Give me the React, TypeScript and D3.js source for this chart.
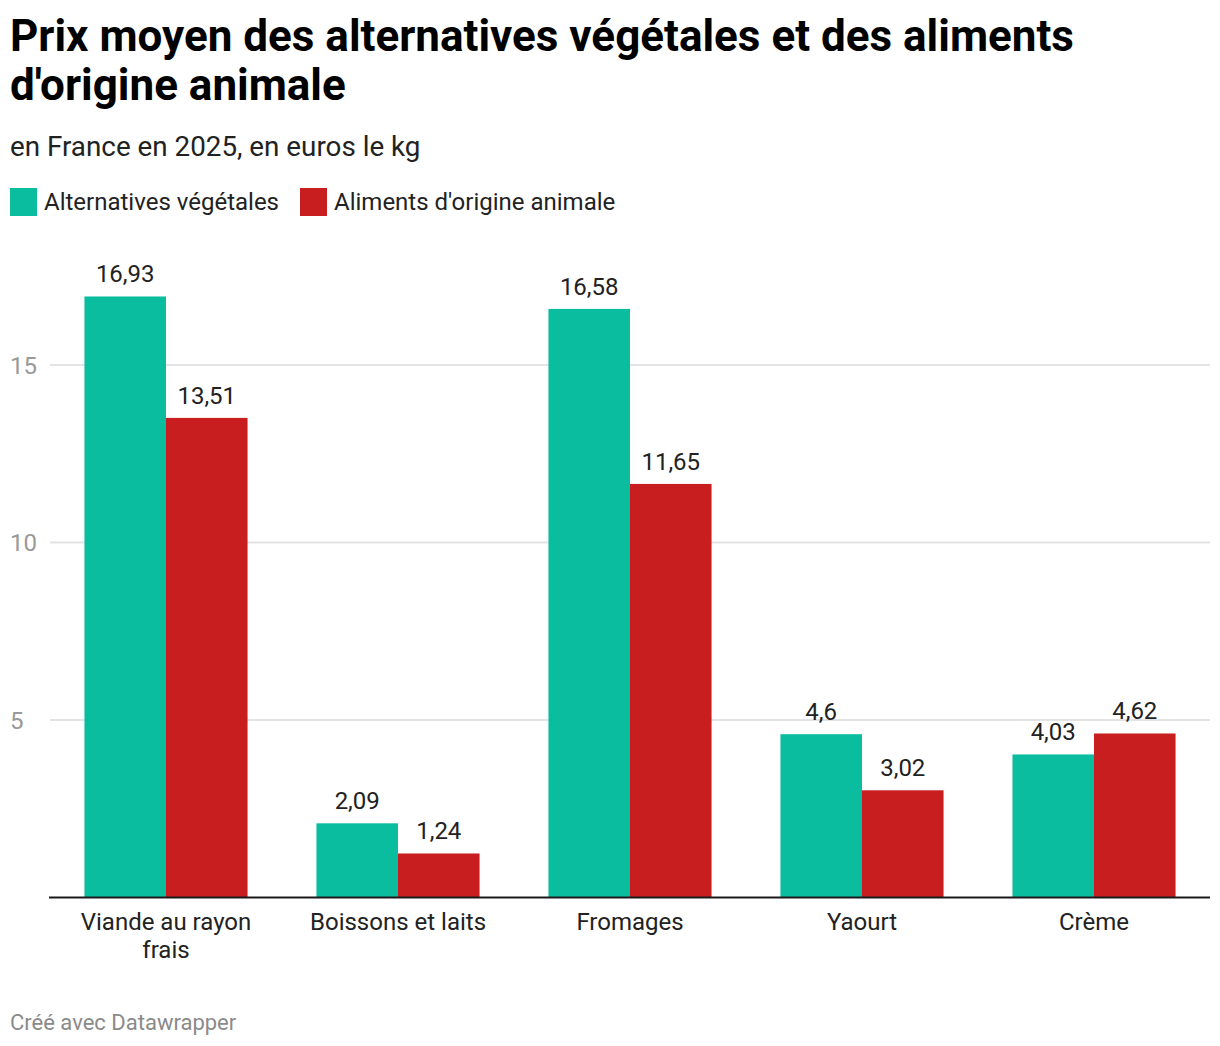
import React, { useEffect } from "react";
import * as d3 from "d3";

const categories = ["Viande au rayon frais", "Boissons et laits", "Fromages", "Yaourt", "Crème"];
const categoryLines = [["Viande au rayon", "frais"], ["Boissons et laits"], ["Fromages"], ["Yaourt"], ["Crème"]];
const seriesNames = ["Alternatives végétales", "Aliments d'origine animale"];
const vegetal = [16.93, 2.09, 16.58, 4.6, 4.03];
const animal = [13.51, 1.24, 11.65, 3.02, 4.62];
const yTicks = [5, 10, 15];
const colors = ["#0abd9f", "#c81e1f"];

const W = 1220;
const H = 1046;
const plotLeft = 50;
const plotRight = 1210;
const baseY = 897.5;
const pxPerUnit = 35.5;

export default function App() {
  useEffect(() => {
    document.body.style.margin = "0";
  }, []);

  const x = d3.scaleBand<string>().domain(categories).range([plotLeft, plotRight]).paddingInner(0.297).paddingOuter(0.1485);
  const x1 = d3.scaleBand<number>().domain([0, 1]).range([0, x.bandwidth()]);
  const y = d3.scaleLinear().domain([0, 20]).range([baseY, baseY - 20 * pxPerUnit]);
  const fmt = (v: number) => String(v).replace(".", ",");
  const series = [vegetal, animal];
  const font = "Roboto, sans-serif";

  return (
    <svg width={W} height={H} style={{ display: "block", position: "absolute", left: 0, top: 0, fontFamily: font }}>
      <rect width={W} height={H} fill="#fff" />
      <text x={10} y={51} fontSize={44} fontWeight={700} fill="#000">Prix moyen des alternatives végétales et des aliments</text>
      <text x={10} y={100} fontSize={44} fontWeight={700} fill="#000">d'origine animale</text>
      <text x={10} y={156} fontSize={27.8} fill="#222">en France en 2025, en euros le kg</text>
      {seriesNames.map((s, i) => {
        const lx = i === 0 ? 10 : 300;
        return (
          <g key={s}>
            <rect x={lx} y={188} width={27} height={28} fill={colors[i]} />
            <text x={lx + 34} y={210} fontSize={24} fill="#222">{s}</text>
          </g>
        );
      })}
      {yTicks.map((t) => (
        <g key={t}>
          <line x1={plotLeft} x2={plotRight} y1={y(t)} y2={y(t)} stroke="#e3e3e3" strokeWidth={2} />
          <text x={10} y={y(t) + 8.5} fontSize={24} fill="#999">{t}</text>
        </g>
      ))}
      {categories.map((c, ci) => (
        <g key={c}>
          {series.map((vals, si) => {
            const bx = (x(c) as number) + (x1(si) as number);
            const bw = x1.bandwidth();
            return (
              <g key={si}>
                <rect x={bx} y={y(vals[ci])} width={bw} height={baseY - y(vals[ci])} fill={colors[si]} />
                <text x={bx + bw / 2} y={y(vals[ci]) - 14} fontSize={24} textAnchor="middle" fill="#222">{fmt(vals[ci])}</text>
              </g>
            );
          })}
          {categoryLines[ci].map((ln, li) => (
            <text key={li} x={(x(c) as number) + x.bandwidth() / 2} y={930 + li * 28} fontSize={24} textAnchor="middle" fill="#222">{ln}</text>
          ))}
        </g>
      ))}
      <line x1={plotLeft - 1} x2={plotRight} y1={baseY} y2={baseY} stroke="#1a1a1a" strokeWidth={2} />
      <text x={10} y={1030} fontSize={22} fill="#8a8a8a">Créé avec Datawrapper</text>
    </svg>
  );
}
